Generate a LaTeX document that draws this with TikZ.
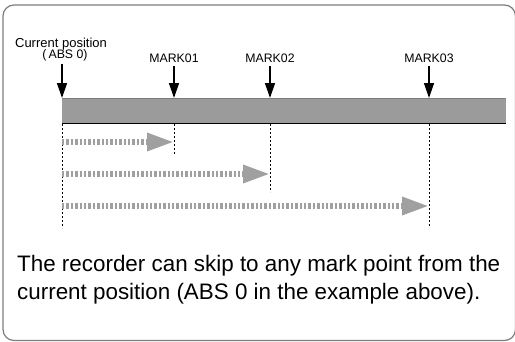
\documentclass[tikz,border=0pt]{standalone}
\usepackage{fontspec}
\setmainfont{Liberation Sans}
\usetikzlibrary{arrows.meta}
\definecolor{framegray}{RGB}{125,125,125}
\definecolor{bargray}{RGB}{155,155,155}
\definecolor{skipgray}{RGB}{160,160,160}
\tikzset{
  frame/.style={draw=framegray, line width=1.2pt, rounded corners=11pt},
  lbl/.style={font=\fontsize{12.3}{11}\selectfont, inner sep=0pt, align=center},
  downarrow/.style={line width=1.4pt, -{Triangle[length=15pt,width=10pt]}},
  guide/.style={line width=0.8pt, dash pattern=on 2pt off 2pt},
  skip/.style={draw=skipgray, line width=6pt, dash pattern=on 2.4pt off 2pt,
    -{Triangle[length=27pt,width=17pt,fill=skipgray,color=skipgray]}},
  note/.style={font=\fontsize{22.4}{28}\selectfont, inner sep=0pt, align=left, anchor=north west}
}
\begin{document}
\begin{tikzpicture}[x=1pt,y=-1pt]
\useasboundingbox (0,0) rectangle (515,341);
% frame
\draw[frame] (3,5) rectangle (515.5,340.5);
% bar
\fill[bargray] (62,98) rectangle (506,123);
\draw[framegray, line width=0.8pt] (62,98) -- (506,98);
\draw[black, line width=0.9pt] (62,123) -- (506,123);
% positions on the bar
\coordinate (p0) at (62,98);
\coordinate (p1) at (174,98);
\coordinate (p2) at (270,98);
\coordinate (p3) at (429,98);
% labels
\node[lbl, anchor=base] (cur1) at (61,47) {\fontsize{13}{11}\selectfont Current position};
\node[lbl, anchor=base] (cur) at (65,58) {(\,ABS 0)};
\node[lbl, anchor=base] (l1) at (174,62) {MARK01};
\node[lbl, anchor=base] (l2) at (270,62) {MARK02};
\node[lbl, anchor=base] (l3) at (429,62) {MARK03};
% down arrows
\draw[downarrow] (cur.south -| p0) ++(0,3) coordinate (a0) (a0) -- (p0);
\draw[downarrow] (l1.south) ++(0,4) coordinate (a1) (a1) -- (p1);
\draw[downarrow] (l2.south) ++(0,4) coordinate (a2) (a2) -- (p2);
\draw[downarrow] (l3.south) ++(0,4) coordinate (a3) (a3) -- (p3);
% guide lines
\coordinate (g0) at (62,228);
\coordinate (g1) at (174,154);
\coordinate (g2) at (270,192);
\coordinate (g3) at (429,226);
\draw[guide] (62,124) -- (g0);
\draw[guide] (174,124) -- (g1);
\draw[guide] (270,124) -- (g2);
\draw[guide] (429,124) -- (g3);
% skip arrows
\coordinate (s1a) at (62,142); \coordinate (s1b) at (174,142);
\coordinate (s2a) at (62,174); \coordinate (s2b) at (270,174);
\coordinate (s3a) at (62,206); \coordinate (s3b) at (429,206);
\draw[skip] (s1a) -- (s1b);
\draw[skip] (s2a) -- (s2b);
\draw[skip] (s3a) -- (s3b);
% note
\node[note] (txt) at (17,255) {The recorder can skip to any mark point from the\\current position (ABS 0 in the example above).};
\end{tikzpicture}
\end{document}
